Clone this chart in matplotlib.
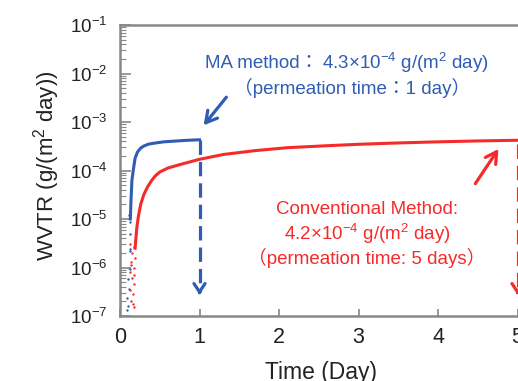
import matplotlib
matplotlib.use('Agg')
import matplotlib.pyplot as plt

plt.rcParams['font.family'] = ['Liberation Sans', 'DejaVu Sans', 'Noto Sans CJK JP']
plt.rcParams['mathtext.fontset'] = 'custom'
plt.rcParams['mathtext.rm'] = 'Liberation Sans'
plt.rcParams['mathtext.default'] = 'regular'

# MA method (blue) - smooth part of the curve
ma_time = [0.13, 0.14, 0.15, 0.17, 0.19, 0.22, 0.26, 0.30, 0.36, 0.45,
           0.55, 0.70, 0.85, 1.00]
ma_wvtr = [1.0e-5, 2.8e-5, 6.3e-5, 1.1e-4, 1.8e-4, 2.4e-4, 2.9e-4, 3.2e-4,
           3.5e-4, 3.7e-4, 3.9e-4, 4.05e-4, 4.2e-4, 4.3e-4]
# MA method - scattered early points
ma_early_time = [0.09, 0.10, 0.09, 0.11, 0.10, 0.12, 0.11, 0.12, 0.13,
                 0.12, 0.13, 0.11, 0.12]
ma_early_wvtr = [1.3e-7, 1.6e-7, 2.3e-7, 3.6e-7, 5.8e-7, 9.3e-7, 1.0e-6,
                 2.2e-6, 2.4e-6, 4.9e-6, 8.5e-6, 1.2e-5, 1.4e-5]

# Conventional method (red) - smooth part
conv_time = [0.19, 0.21, 0.23, 0.26, 0.30, 0.35, 0.40, 0.45, 0.50, 0.60,
             0.75, 1.0, 1.3, 1.7, 2.1, 2.6, 3.0, 3.5, 4.0, 4.5, 5.0]
conv_wvtr = [2.5e-6, 6.3e-6, 1.1e-5, 2.0e-5, 3.2e-5, 4.7e-5, 6.3e-5, 7.9e-5,
             9.3e-5, 1.12e-4, 1.32e-4, 1.7e-4, 2.14e-4, 2.57e-4, 2.95e-4,
             3.24e-4, 3.47e-4, 3.7e-4, 3.9e-4, 4.07e-4, 4.2e-4]
# Conventional method - scattered early points
conv_early_time = [0.17, 0.14, 0.16, 0.13, 0.18, 0.15, 0.12, 0.17, 0.14,
                   0.19, 0.15, 0.18, 0.13, 0.16, 0.17, 0.14]
conv_early_wvtr = [1.5e-7, 2.0e-7, 2.8e-7, 3.5e-7, 4.5e-7, 6.0e-7, 8.0e-7,
                   1.0e-6, 1.3e-6, 1.6e-6, 2.0e-6, 2.6e-6, 3.0e-6, 1.8e-7,
                   7.0e-7, 1.1e-6]

blue = '#2f5cb4'
red = '#f52a2a'
gray = '#888888'

fig = plt.figure(figsize=(5.18, 3.81), dpi=100)
# axes run past the right border of the picture, as in the reference crop
ax = fig.add_axes([120 / 518, 65 / 381, 5.6 * 79.5 / 518, 291 / 381])

ax.plot(ma_time, ma_wvtr, color=blue, lw=2.2)
ax.scatter(ma_early_time, ma_early_wvtr, color=blue, s=3, lw=0)
ax.plot(conv_time, conv_wvtr, color=red, lw=2.2)
ax.scatter(conv_early_time, conv_early_wvtr, color=red, s=3, lw=0)

# dashed drop lines with open arrow heads
ax.plot([1, 1], [ma_wvtr[-1], 3.2e-7], color=blue, lw=2.3, dashes=(4.5, 2.2))
ax.annotate('', xy=(1, 2.4e-7), xytext=(1, 3.6e-7),
            arrowprops=dict(arrowstyle='->,head_length=0.6,head_width=0.4',
                            color=blue, lw=2.3))
ax.plot([5, 5], [3.6e-4, 3.2e-7], color=red, lw=2.3, dashes=(4.5, 2.2))
ax.annotate('', xy=(5, 2.4e-7), xytext=(5, 3.6e-7),
            arrowprops=dict(arrowstyle='->,head_length=0.6,head_width=0.4',
                            color=red, lw=2.3))

# pointer arrows
ax.annotate('', xy=(1.03, 7.7e-4), xytext=(1.36, 3.6e-3),
            arrowprops=dict(arrowstyle='->,head_length=0.8,head_width=0.45',
                            color=blue, lw=2.3))
ax.annotate('', xy=(4.78, 3.1e-4), xytext=(4.45, 4.8e-5),
            arrowprops=dict(arrowstyle='->,head_length=0.8,head_width=0.45',
                            color=red, lw=2.3))

ax.set_yscale('log')
ax.set_ylim(1e-7, 1e-1)
ax.set_xlim(0, 5.6)
ax.set_xticks([0, 1, 2, 3, 4, 5])
ax.set_yticks([1e-7, 1e-6, 1e-5, 1e-4, 1e-3, 1e-2, 1e-1])

for s in ['left', 'bottom', 'top']:
    ax.spines[s].set_color(gray)
    ax.spines[s].set_linewidth(1.8)
ax.spines['right'].set_visible(False)

ax.tick_params(axis='y', which='major', direction='in', length=8, width=1.2,
               color=gray, labelsize=13.5, pad=9, labelcolor='#222222')
ax.tick_params(axis='y', which='minor', direction='in', length=4, width=0.8,
               color=gray)
ax.tick_params(axis='x', which='major', direction='in', length=5, width=1.2,
               color=gray, labelsize=15.5, pad=8, labelcolor='#222222')

fig.text(47 / 518, 1 - 166 / 381, 'WVTR (g/(m$^{2}$ day))', rotation=90,
         ha='center', va='center', fontsize=16, color='#222222')
fig.text(321 / 518, 1 - 373 / 381, 'Time (Day)', ha='center', va='center',
         fontsize=16.5, color='#222222')

# first blue line is split so the full-width colon is not fed to mathtext
fig.text(205 / 518, 1 - 63 / 381, 'MA method：',
         ha='left', va='center', fontsize=13.5, color=blue)
fig.text(322 / 518, 1 - 63 / 381, '4.3×10$^{-4}$ g/(m$^{2}$ day)',
         ha='left', va='center', fontsize=13.5, color=blue)
fig.text(352 / 518, 1 - 88 / 381, '（permeation time：1 day）',
         ha='center', va='center', fontsize=13.5, color=blue)

fig.text(367 / 518, 1 - 210 / 381, 'Conventional Method:',
         ha='center', va='center', fontsize=13.5, color=red)
fig.text(367 / 518, 1 - 234 / 381, '4.2×10$^{-4}$ g/(m$^{2}$ day)',
         ha='center', va='center', fontsize=13.5, color=red)
fig.text(367 / 518, 1 - 258 / 381, '（permeation time: 5 days）',
         ha='center', va='center', fontsize=13.5, color=red)

fig.savefig('out.png', dpi=100)
